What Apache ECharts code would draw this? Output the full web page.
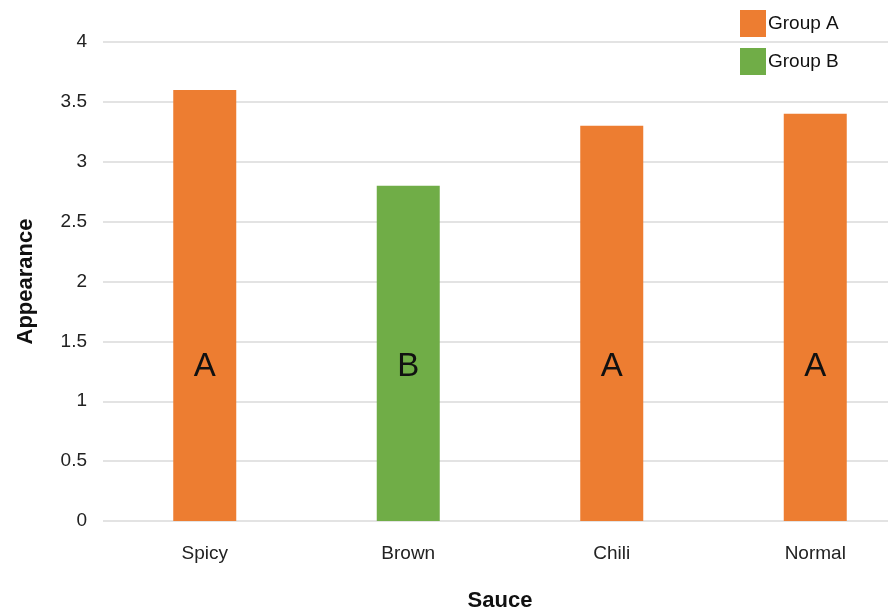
<!DOCTYPE html>
<html>
<head>
<meta charset="utf-8">
<script src="https://cdn.jsdelivr.net/npm/echarts@6/dist/echarts.min.js"></script>
<style>
  html, body { margin: 0; padding: 0; background: #fff; }
  #chart { width: 888px; height: 614px; }
</style>
</head>
<body>
<div id="chart"></div>
<script>
// Sauce appearance scores with significance grouping
const sauces = ['Spicy', 'Brown', 'Chili', 'Normal'];
const groupAValues = [3.6, '-', 3.3, 3.4];
const groupBValues = ['-', 2.8, '-', '-'];
const groupLetters = ['A', 'B', 'A', 'A'];
const yTicks = [0, 0.5, 1, 1.5, 2, 2.5, 3, 3.5, 4];

const chart = echarts.init(document.getElementById('chart'));

const letterLabel = {
  show: true,
  position: 'insideBottom',
  distance: 138,
  fontFamily: 'Liberation Sans, Arial, sans-serif',
  fontSize: 33,
  color: '#111',
  formatter: p => groupLetters[p.dataIndex]
};

chart.setOption({
  animation: false,
  textStyle: { fontFamily: 'Liberation Sans, Arial, sans-serif' },
  grid: { left: 103, top: 42, width: 814, height: 479, containLabel: false, outerBoundsMode: 'none' },
  legend: {
    orient: 'vertical',
    left: 735,
    top: 5,
    itemWidth: 26,
    itemHeight: 27,
    itemGap: 11,
    icon: 'rect',
    textStyle: { fontSize: 19, color: '#111', padding: [0, 0, 0, -3] },
    data: ['Group A', 'Group B']
  },
  xAxis: {
    type: 'category',
    data: sauces,
    name: 'Sauce',
    nameLocation: 'middle',
    nameGap: 69,
    nameTextStyle: { fontSize: 22, fontWeight: 'bold', color: '#111', padding: [0, 20, 0, 0] },
    axisLine: { show: false },
    axisTick: { show: false },
    axisLabel: { fontSize: 19, color: '#222', margin: 23 }
  },
  yAxis: {
    type: 'value',
    min: yTicks[0],
    max: yTicks[yTicks.length - 1],
    interval: 0.5,
    name: 'Appearance',
    nameLocation: 'middle',
    nameGap: 66,
    nameTextStyle: { fontSize: 22, fontWeight: 'bold', color: '#111' },
    axisLine: { show: false },
    axisTick: { show: false },
    axisLabel: { fontSize: 19, color: '#222', margin: 16 },
    splitLine: { lineStyle: { color: '#e3e3e3', width: 2 } }
  },
  series: [
    {
      name: 'Group A',
      type: 'bar',
      data: groupAValues,
      barWidth: 63,
      barGap: '-100%',
      itemStyle: { color: '#ED7D31' },
      label: letterLabel
    },
    {
      name: 'Group B',
      type: 'bar',
      data: groupBValues,
      barWidth: 63,
      itemStyle: { color: '#70AD47' },
      label: letterLabel
    }
  ]
});
</script>
</body>
</html>
